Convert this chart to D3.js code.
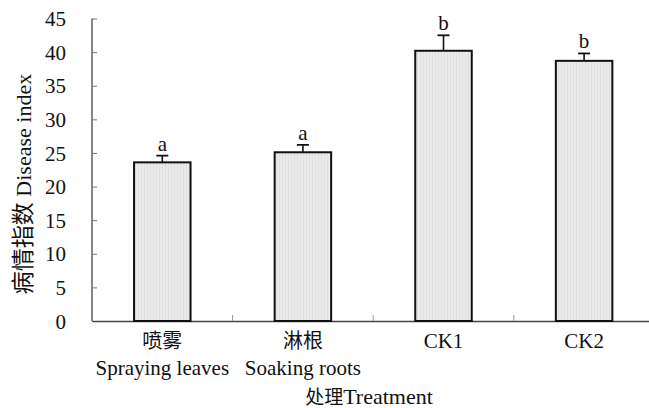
<!DOCTYPE html>
<html><head><meta charset="utf-8">
<script src="https://cdn.jsdelivr.net/npm/d3@7"></script>
<style>body{margin:0;background:#fff}svg{display:block}</style>
</head><body>
<script>
const categoriesCN = ["喷雾", "淋根", "CK1", "CK2"];
const categoriesEN = ["Spraying leaves", "Soaking roots", "", ""];
const values = [23.6, 25.1, 40.2, 38.7];
const errors = [1.0, 1.1, 2.3, 1.1];
const letters = ["a", "a", "b", "b"];
const yTicks = [0, 5, 10, 15, 20, 25, 30, 35, 40, 45];

const W = 649, H = 408;
const svg = d3.select("body").append("svg").attr("width", W).attr("height", H);
const font = "'Liberation Serif','Times New Roman',serif";
const cjk = "'Noto Sans CJK SC','Liberation Serif',serif";

const x = d3.scaleBand().domain(d3.range(categoriesCN.length)).range([92, 654.4]).paddingInner(0).paddingOuter(0);
const y = d3.scaleLinear().domain([0, 45]).range([321, 18.5]);
const bw = 56.5;

// pattern for bars
const defs = svg.append("defs");
const pat = defs.append("pattern").attr("id", "tex").attr("patternUnits", "userSpaceOnUse").attr("width", 3).attr("height", 3);
pat.append("rect").attr("width", 3).attr("height", 3).attr("fill", "#eaeaea");
pat.append("rect").attr("width", 1).attr("height", 3).attr("fill", "#e0e0e0");

// y axis
const yAxis = d3.axisLeft(y).tickValues(yTicks).tickSize(-5).tickPadding(26).tickFormat(d3.format("d"));
const gy = svg.append("g").attr("transform", "translate(92,0)").call(yAxis);
gy.select(".domain").attr("stroke", "#444").attr("stroke-width", 1.3).attr("d", `M0,${y(45)}V${y(0)}`);
gy.selectAll(".tick line").attr("stroke", "#777").attr("stroke-width", 1);
gy.selectAll(".tick text").attr("font-family", font).attr("font-size", 21).attr("fill", "#111").attr("text-anchor", "end").attr("x", -26).attr("dy", "0.34em");

// x axis
const xAxis = d3.axisBottom(x).tickValues([]).tickSizeOuter(0);
const gx = svg.append("g").attr("transform", `translate(0,${y(0)})`).call(xAxis);
gx.select(".domain").attr("stroke", "#444").attr("stroke-width", 1.6);
// category boundary ticks
svg.selectAll("line.bt").data(d3.range(1, categoriesCN.length)).join("line")
  .attr("x1", d => x(d)).attr("x2", d => x(d))
  .attr("y1", y(0) - 6).attr("y2", y(0))
  .attr("stroke", "#999").attr("stroke-width", 1);

// bars
svg.selectAll("rect.bar").data(values).join("rect")
  .attr("x", (d, i) => x(i) + x.bandwidth() / 2 - bw / 2)
  .attr("y", d => y(d))
  .attr("width", bw)
  .attr("height", d => y(0) - y(d))
  .attr("fill", "url(#tex)")
  .attr("stroke", "#111").attr("stroke-width", 2);

// error bars
values.forEach((v, i) => {
  const cx = x(i) + x.bandwidth() / 2;
  svg.append("line").attr("x1", cx).attr("x2", cx).attr("y1", y(v)).attr("y2", y(v + errors[i])).attr("stroke", "#111").attr("stroke-width", 1.6);
  svg.append("line").attr("x1", cx - 6).attr("x2", cx + 6).attr("y1", y(v + errors[i])).attr("y2", y(v + errors[i])).attr("stroke", "#111").attr("stroke-width", 1.8);
  svg.append("text").attr("x", cx).attr("y", y(v + errors[i]) - 5).attr("text-anchor", "middle")
    .attr("font-family", font).attr("font-size", 21).attr("fill", "#111").text(letters[i]);
});

// category labels
categoriesCN.forEach((c, i) => {
  const cx = x(i) + x.bandwidth() / 2;
  const isLatin = /[A-Z]/.test(c);
  svg.append("text").attr("x", cx).attr("y", 348).attr("text-anchor", "middle")
    .attr("font-family", isLatin ? font : cjk).attr("font-size", isLatin ? 21 : 20).attr("fill", "#111").text(c);
  if (categoriesEN[i]) svg.append("text").attr("x", cx).attr("y", 375).attr("text-anchor", "middle")
    .attr("font-family", font).attr("font-size", 21).attr("fill", "#111").text(categoriesEN[i]);
});

// x title
const xt = svg.append("text").attr("x", 369).attr("y", 404).attr("text-anchor", "middle").attr("fill", "#111");
xt.append("tspan").attr("font-family", cjk).attr("font-size", 19).text("处理");
xt.append("tspan").attr("font-family", font).attr("font-size", 22).text("Treatment");

// y title
const yt = svg.append("text").attr("transform", "translate(31,184) rotate(-90)").attr("text-anchor", "middle").attr("fill", "#111");
yt.append("tspan").attr("font-family", cjk).attr("font-size", 23).text("病情指数");
yt.append("tspan").attr("font-family", font).attr("font-size", 22).text("  Disease index");
</script>
</body></html>
